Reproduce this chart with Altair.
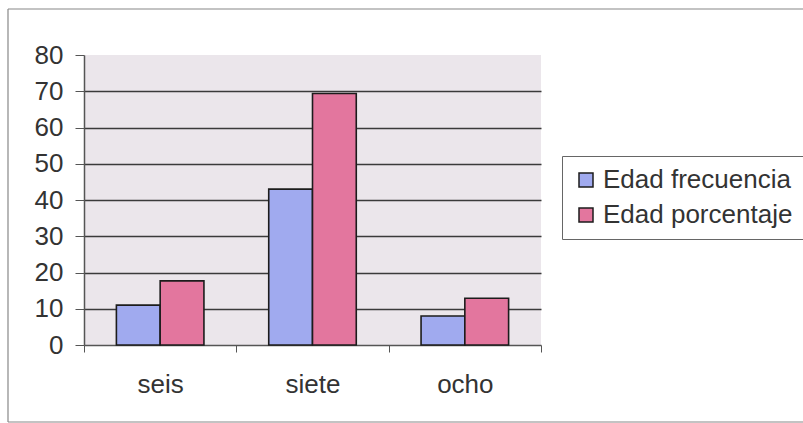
import altair as alt
import pandas as pd

# Age groups and the two series plotted for each
categorias = ["seis", "siete", "ocho"]
series = ["Edad frecuencia", "Edad porcentaje"]
frecuencia = [11, 43, 8]
porcentaje = [17.7, 69.4, 12.9]

colores = ["#a0aaef", "#e3769e"]
texto = "#333333"
fuente = "Liberation Sans"

filas = []
for edad, f, p in zip(categorias, frecuencia, porcentaje):
    filas.append({"edad": edad, "serie": series[0], "valor": f})
    filas.append({"edad": edad, "serie": series[1], "valor": p})
df = pd.DataFrame(filas)

barras = alt.Chart(df).mark_bar(stroke="#1c1c1c", strokeWidth=1.6).encode(
    x=alt.X(
        "edad:N",
        sort=categorias,
        scale=alt.Scale(paddingInner=0, paddingOuter=0),
        axis=alt.Axis(
            title=None,
            labelAngle=0,
            labelFontSize=26,
            labelFont=fuente,
            labelColor=texto,
            labelPadding=19,
            tickBand="extent",
            tickSize=7,
            tickColor="#555555",
            domainColor="#555555",
            domainWidth=1.5,
            grid=False,
        ),
    ),
    xOffset=alt.XOffset(
        "serie:N", sort=series, scale=alt.Scale(paddingInner=0, paddingOuter=0.74)
    ),
    y=alt.Y(
        "valor:Q",
        scale=alt.Scale(domain=[0, 80], nice=False),
        axis=alt.Axis(
            title=None,
            values=list(range(0, 81, 10)),
            labelFontSize=26,
            labelFont=fuente,
            labelColor=texto,
            labelPadding=12,
            tickSize=9,
            tickColor="#555555",
            domainColor="#555555",
            domainWidth=1.5,
            grid=True,
            gridColor={
                "condition": {"test": "datum.value >= 80 || datum.value <= 0", "value": "transparent"},
                "value": "#3a3a3a",
            },
            gridWidth=1.5,
        ),
    ),
    color=alt.Color(
        "serie:N",
        sort=series,
        scale=alt.Scale(domain=series, range=colores),
        legend=alt.Legend(
            title=None,
            orient="none",
            legendX=478,
            legendY=101,
            direction="vertical",
            labelFontSize=26,
            labelFont=fuente,
            labelColor=texto,
            labelLimit=0,
            symbolType="square",
            symbolSize=196,
            symbolStrokeColor="#1c1c1c",
            symbolStrokeWidth=1.5,
            rowPadding=9,
            padding=11,
            strokeColor="#666666",
            labelOffset=4,
        ),
    ),
)

# Outer chart frame (open on the right, where the page cuts it off)
marco = pd.DataFrame({"k": [0]})
borde = dict(color="#888888", strokeWidth=1.2)
izquierda = alt.Chart(marco).mark_rule(**borde).encode(
    x=alt.value(-76), y=alt.value(-46), y2=alt.value(367)
)
arriba = alt.Chart(marco).mark_rule(**borde).encode(
    x=alt.value(-76), x2=alt.value(740), y=alt.value(-46)
)
abajo = alt.Chart(marco).mark_rule(**borde).encode(
    x=alt.value(-76), x2=alt.value(740), y=alt.value(367)
)

chart = (
    alt.layer(barras, izquierda, arriba, abajo)
    .properties(
        width=457,
        height=290,
        autosize=alt.AutoSizeParams(type="none"),
        padding={"left": 84, "top": 55, "right": 262, "bottom": 78},
        background="white",
    )
    .configure_view(fill="#ebe6eb", stroke=None)
)

chart.save("out.html", embed_options={"renderer": "svg", "actions": False})
